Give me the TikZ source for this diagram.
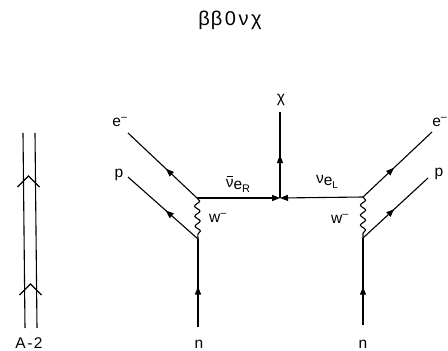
\documentclass[tikz,border=0pt]{standalone}
\usepackage{fontspec}
\setmainfont{Liberation Sans}
\usetikzlibrary{arrows.meta,decorations.markings,decorations.pathmorphing}
\newcommand{\mybar}[1]{\makebox[0pt][l]{\kern0.8pt\raisebox{11pt}{\rule{6pt}{0.9pt}}}#1}
\newcommand{\supminus}{\textsuperscript{–}}
\begin{document}
\begin{tikzpicture}[x=1pt,y=-1pt,line width=1.1pt,
  lbl/.style={font=\fontsize{15.5}{15.5}\selectfont,inner sep=0pt},
  ttl/.style={font=\fontsize{20}{20}\selectfont,inner sep=0pt},
  fermion/.style={postaction={decorate},decoration={markings,
     mark=at position #1 with {\arrow{Triangle[length=8pt,width=6pt]}}}},
  fermion/.default=0.5,
  boson/.style={decorate,decoration={snake,segment length=10pt,amplitude=2.6pt}},
  tipend/.style={-{Triangle[length=8pt,width=6pt]}},
  chev/.style={line width=1.1pt}]
\useasboundingbox (0,0) rectangle (448,351);
% title
\node[ttl] (title) at (230,20) {β\kern1ptβ\kern2.5pt0\kern2.5ptν\kern2.5ptχ};
% left A-2 double line
\coordinate (a1t) at (23,133); \coordinate (a1b) at (25,328);
\coordinate (a2t) at (35,133); \coordinate (a2b) at (37,328);
\draw (a1t) -- (a1b);
\draw (a2t) -- (a2b);
\coordinate (c1) at (28.5,176); \coordinate (c2) at (30.5,284);
\draw[chev] ([shift={(-11,11)}]c1) -- (c1) -- ([shift={(11,11)}]c1);
\draw[chev] ([shift={(-11,11)}]c2) -- (c2) -- ([shift={(11,11)}]c2);
\node[lbl] (A2) at (29,343) {A\kern1.5pt-\kern1.5pt2};
% vertices
\coordinate (lv) at (197,198);
\coordinate (lw) at (198,239);
\coordinate (le) at (128,133);
\coordinate (lp) at (128,177);
\coordinate (ln) at (198,327);
\coordinate (cv) at (280,198);
\coordinate (chi) at (280,112);
\coordinate (rv) at (363,197);
\coordinate (rw) at (363,238);
\coordinate (re) at (432,132);
\coordinate (rp) at (428,178);
\coordinate (rn) at (363,325);
\draw[fermion=0.45] (lv) -- (le);
\draw[fermion=0.46] (lw) -- (lp);
\draw[fermion=0.46] (ln) -- (lw);
\draw[boson] (lv) -- (lw);
\draw[tipend] (lv) -- (cv);
\draw[tipend] (rv) -- (cv);
\draw[fermion=0.5] (cv) -- (chi);
\draw[fermion=0.45] (rv) -- (re);
\draw[fermion=0.48] (rw) -- (rp);
\draw[fermion=0.44] (rn) -- (rw);
\draw[boson] (rv) -- (rw);
% labels
\node[lbl] (eL) at (120,122) {e\supminus};
\node[lbl] (pL) at (119,175) {p};
\node[lbl] (nL) at (199,344) {n};
\node[lbl] (wL) at (218,218) {w\supminus};
\node[lbl] (nuR) at (238,184) {\mybar{ν}\raisebox{-2pt}{e}\raisebox{-5pt}{\fontsize{11}{11}\selectfont R}};
\node[lbl] (chiL) at (281,100) {χ};
\node[lbl] (nuL) at (327,182) {ν\raisebox{-2pt}{e}\raisebox{-5pt}{\fontsize{10}{10}\selectfont L}};
\node[lbl] (wR) at (340,219) {w\supminus};
\node[lbl,anchor=east] (eR) at (448,122) {e\supminus};
\node[lbl] (pR) at (439,174) {p};
\node[lbl] (nR) at (363,344) {n};
\end{tikzpicture}
\end{document}
